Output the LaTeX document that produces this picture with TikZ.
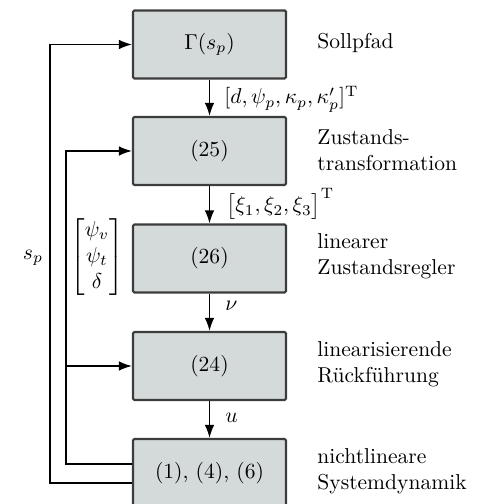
\documentclass[tikz,border=0pt]{standalone}
\usepackage{amsmath}
\usetikzlibrary{arrows.meta,calc}
\definecolor{boxgray}{RGB}{212,217,217}
\definecolor{edgegray}{RGB}{60,60,60}
\begin{document}
\begin{tikzpicture}[x=0.464pt,y=-0.464pt,
  blk/.style={draw=edgegray,line width=1pt,fill=boxgray,rounded corners=0.6pt,
    minimum width=153*0.464pt,minimum height=68*0.464pt,inner sep=0pt},
  side/.style={anchor=west,align=left,inner sep=0pt},
  lab/.style={anchor=west,inner sep=0pt},
  arr/.style={-{Latex[length=6pt,width=4.4pt]},line width=0.65pt}]
\useasboundingbox (0,0) rectangle (483,504);
\clip (0,0) rectangle (483,504);
\node[blk] (b1) at (209.5,44.5) {$\Gamma(s_p)$};
\node[blk] (b2) at (209.5,151) {$(25)$};
\node[blk] (b3) at (209.5,258.5) {$(26)$};
\node[blk] (b4) at (209.5,366) {$(24)$};
\node[blk] (b5) at (209.5,473) {$(1)$, $(4)$, $(6)$};
\node[side] (t1) at (317,43) {Sollpfad};
\node[side] (t2) at (317,150) {Zustands-\\transformation};
\node[side] (t3) at (317,256) {linearer\\Zustandsregler};
\node[side] (t4) at (317,364) {linearisierende\\R\"uckf\"uhrung};
\node[side] (t5) at (317,471) {nichtlineare\\Systemdynamik};
\draw[arr] (b1) -- (b2);
\draw[arr] (b2) -- (b3);
\draw[arr] (b3) -- (b4);
\draw[arr] (b4) -- (b5);
\node[lab] (l1) at (224,99) {$[d,\psi_p,\kappa_p,\kappa_p']^{\mathrm{T}}$};
\node[lab] (l2) at (226,204) {$\big[\xi_1,\xi_2,\xi_3\big]^{\mathrm{T}}$};
\node[lab] (l3) at (225,306) {$\nu$};
\node[lab] (l4) at (225,418) {$u$};
\coordinate (outer) at (50,258);
\coordinate (inner) at (66,300);
\draw[arr] ($(b5.west)+(0,10)$) -| (outer) |- (b1.west);
\draw[arr] ($(b5.west)+(0,-9)$) -| (inner) |- (b2.west);
\draw[arr] (inner |- b4.west) -- (b4.west);
\node (sp) at (33,258) {$s_p$};
\node (vec) at (97,257) {$\begin{bmatrix}\psi_v\\ \psi_t\\ \delta\end{bmatrix}$};
\end{tikzpicture}
\end{document}
